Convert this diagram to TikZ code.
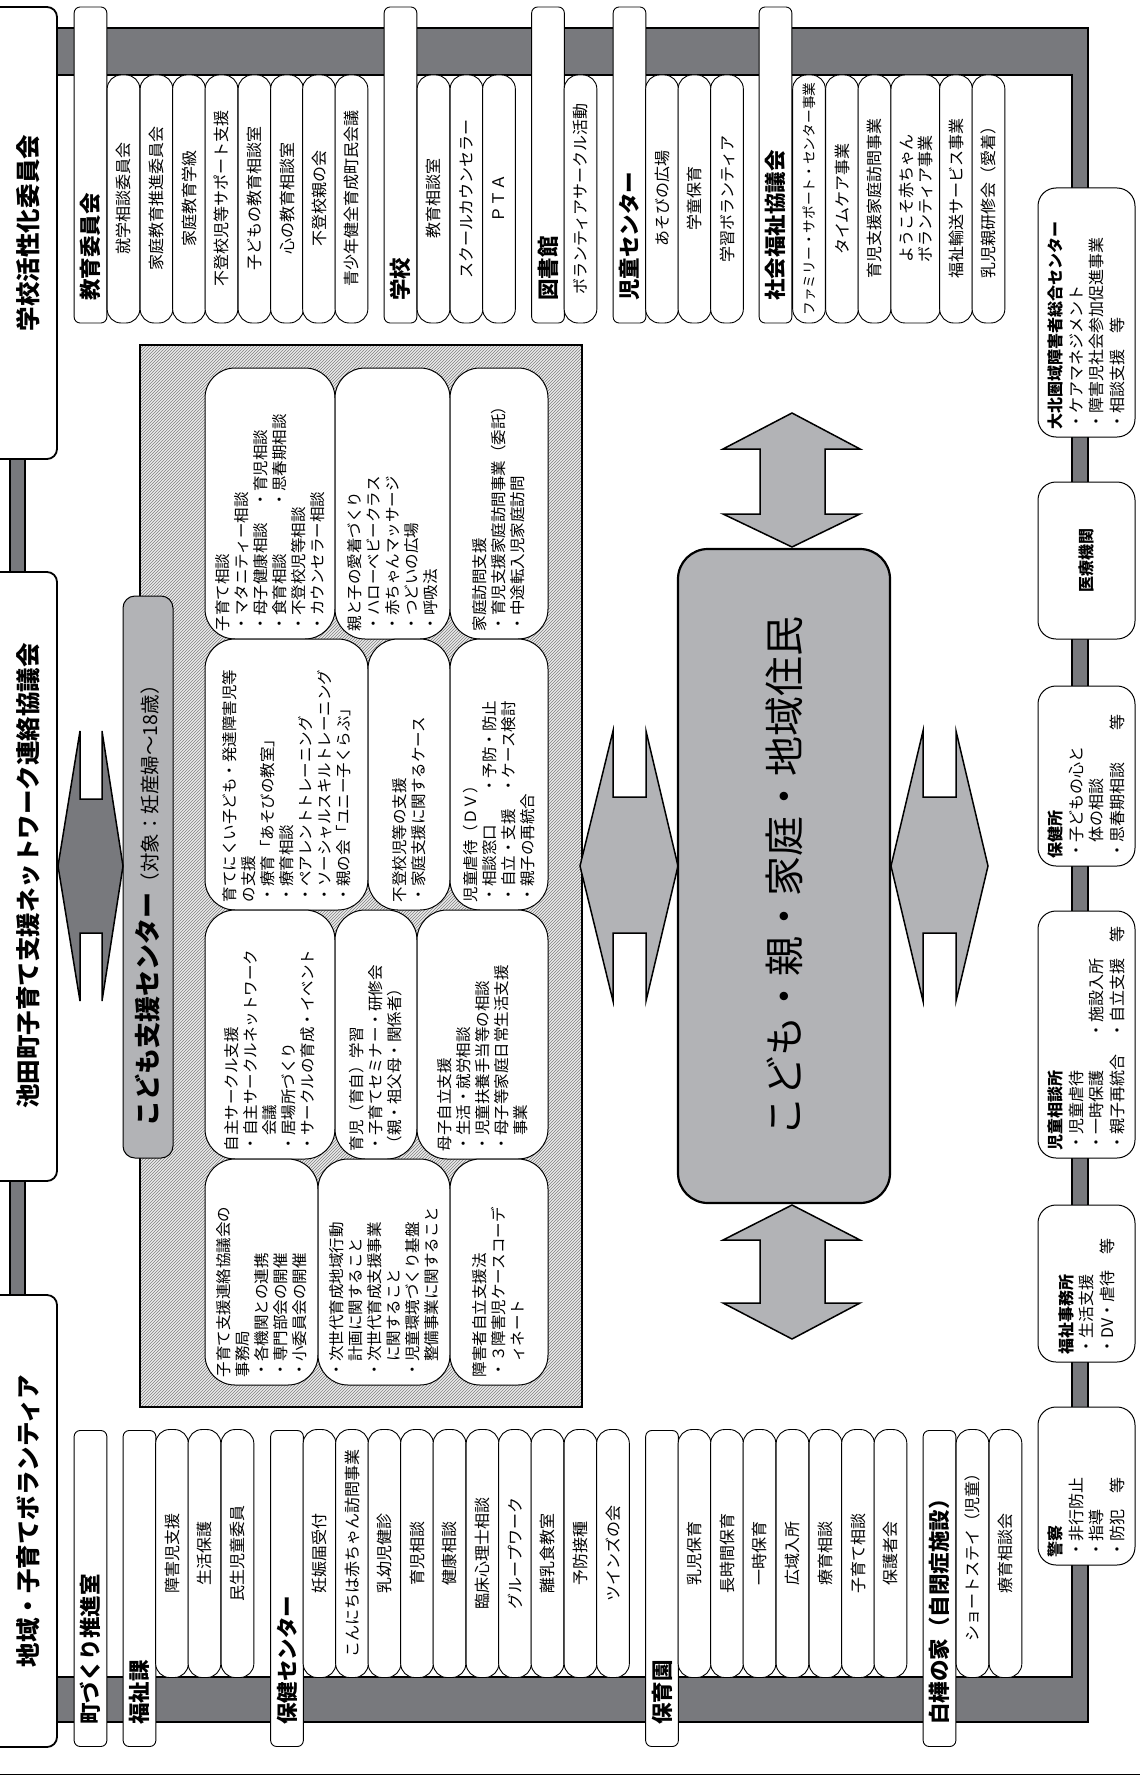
\documentclass[tikz,border=0pt]{standalone}
\usepackage{fontspec}
\setmainfont{Noto Sans CJK JP}
\usetikzlibrary{patterns}

\definecolor{bandgray}{RGB}{120,121,125}
\definecolor{boxgray}{RGB}{178,179,182}

\tikzset{
  band/.style={fill=bandgray, draw=black, line width=2pt},
  titlebox/.style={fill=white, draw=black, line width=1.8pt, rounded corners=10pt},
  titletext/.style={rotate=90, inner sep=0pt, font=\fontsize{24.5}{28}\selectfont\bfseries},
  hdr/.style={rotate=90, draw, line width=0.9pt, fill=white, rounded corners=6pt,
    minimum height=32.7pt, text width=272pt, inner xsep=22pt, inner ysep=0pt,
    align=left, font=\fontsize{21.5}{24}\selectfont\bfseries},
  pill/.style={rotate=90, draw, line width=0.9pt, fill=white, rounded corners=14pt,
    minimum width=248pt, minimum height=32.7pt, inner sep=0pt, align=center,
    font=\fontsize{16}{19}\selectfont},
  tabbox/.style={rotate=90, draw, line width=1pt, fill=boxgray, rounded corners=12pt,
    minimum height=50pt, text width=498pt, inner xsep=32pt, inner ysep=0pt, align=left},
  inbox/.style={rotate=90, draw, line width=1pt, fill=white, rounded corners=30pt,
    inner xsep=8pt, inner ysep=0pt, align=left, font=\fontsize{15.5}{19}\selectfont},
  rbox/.style={rotate=90, draw, line width=1pt, fill=white, rounded corners=18pt,
    minimum height=97pt, inner xsep=7.5pt, inner ysep=0pt, align=left,
    font=\fontsize{16}{20.5}\selectfont},
  core/.style={rotate=90, draw, line width=2.2pt, fill=boxgray, rounded corners=30pt,
    font=\fontsize{40}{44}\selectfont},
  darkarrow/.style={fill=bandgray, draw=black, line width=1.5pt},
  lightarrow/.style={fill=boxgray, draw=black, line width=1.5pt},
}

\begin{document}
\begin{tikzpicture}[x=1pt,y=-1pt]
  \useasboundingbox (0,0) rectangle (1140,1776);

  % gray frame
  \filldraw[band, even odd rule] (10,28) rectangle (1088,1722) (25,75) rectangle (1072,1677);

  % titles on the left edge
  \filldraw[titlebox] (-5,7) -- (57,7) -- (57,459) -- (-5,459);
  \filldraw[titlebox] (-5,572) -- (57,572) -- (57,1181) -- (-5,1181);
  \filldraw[titlebox] (-5,1295) -- (57,1295) -- (57,1747) -- (-5,1747);
  \node[titletext] (t1) at (28,233) {学校活性化委員会};
  \node[titletext] (t2) at (28,876) {池田町子育て支援ネットワーク連絡協議会};
  \node[titletext] (t3) at (28,1521) {地域・子育てボランティア};

  % upper groups
  \node[hdr] (h1) at (90.5,165) {教育委員会};
  \node[pill] (k1) at (123.5,199) {就学相談委員会};
  \node[pill] (k2) at (156.5,199) {家庭教育推進委員会};
  \node[pill] (k3) at (189,199) {家庭教育学級};
  \node[pill] (k4) at (221.5,199) {不登校児等サポート支援};
  \node[pill] (k5) at (254.5,199) {子どもの教育相談室};
  \node[pill] (k6) at (287,199) {心の教育相談室};
  \node[pill] (k7) at (319,199) {不登校親の会};
  \node[pill] (k8) at (351.5,199) {青少年健全育成町民会議};

  \node[hdr] (h2) at (400.5,165) {学校};
  \node[pill] (s1) at (433.5,199) {教育相談室};
  \node[pill] (s2) at (466.5,199) {スクールカウンセラー};
  \node[pill] (s3) at (499,199) {ＰＴＡ};

  \node[hdr] (h3) at (548,165) {図書館};
  \node[pill] (l1) at (580.5,199) {ボランティアサークル活動};

  \node[hdr] (h4) at (629.5,165) {児童センター};
  \node[pill] (j1) at (662,199) {あそびの広場};
  \node[pill] (j2) at (694.5,199) {学童保育};
  \node[pill] (j3) at (727,199) {学習ボランティア};

  \node[hdr] (h5) at (775.5,165) {社会福祉協議会};
  \node[pill, font=\fontsize{13.7}{16}\selectfont] (w1) at (809,199) {ファミリー・サポート・センター事業};
  \node[pill] (w2) at (842,199) {タイムケア事業};
  \node[pill] (w3) at (874.5,199) {育児支援家庭訪問事業};
  \node[pill, minimum height=49pt] (w4) at (915.5,199) {ようこそ赤ちゃん\\ボランティア事業};
  \node[pill] (w5) at (956,199) {福祉輸送サービス事業};
  \node[pill] (w6) at (988.5,199) {乳児親研修会（愛着）};

  % lower groups
  \node[hdr] (g1) at (90.5,1588.5) {町づくり推進室};

  \node[hdr] (g2) at (139.5,1588.5) {福祉課};
  \node[pill] (f1) at (172,1553.5) {障害児支援};
  \node[pill] (f2) at (204.5,1553.5) {生活保護};
  \node[pill] (f3) at (237.5,1553.5) {民生児童委員};

  \node[hdr] (g3) at (287,1588.5) {保健センター};
  \node[pill] (p1) at (319.5,1553.5) {妊娠届受付};
  \node[pill] (p2) at (352,1553.5) {こんにちは赤ちゃん訪問事業};
  \node[pill] (p3) at (384.5,1553.5) {乳幼児健診};
  \node[pill] (p4) at (417,1553.5) {育児相談};
  \node[pill] (p5) at (449.5,1553.5) {健康相談};
  \node[pill] (p6) at (482.5,1553.5) {臨床心理士相談};
  \node[pill] (p7) at (515,1553.5) {グループワーク};
  \node[pill] (p8) at (547.5,1553.5) {離乳食教室};
  \node[pill] (p9) at (580.5,1553.5) {予防接種};
  \node[pill] (p10) at (613,1553.5) {ツインズの会};

  \node[hdr] (g4) at (662,1588.5) {保育園};
  \node[pill] (n1) at (694.5,1553.5) {乳児保育};
  \node[pill] (n2) at (727,1553.5) {長時間保育};
  \node[pill] (n3) at (759.5,1553.5) {一時保育};
  \node[pill] (n4) at (792.5,1553.5) {広域入所};
  \node[pill] (n5) at (825.5,1553.5) {療育相談};
  \node[pill] (n6) at (858,1553.5) {子育て相談};
  \node[pill] (n7) at (890.5,1553.5) {保護者会};

  \node[hdr] (g5) at (939.5,1588.5) {白樺の家（自閉症施設）};
  \node[pill] (b1x) at (972.5,1553.5) {ショートステイ（児童）};
  \node[pill] (b2x) at (1005.5,1553.5) {療育相談会};

  % support centre area
  \fill[black!8] (140,345) rectangle (582,1407);
  \fill[pattern=north east lines, pattern color=black!50] (140,345) rectangle (582,1407);
  \draw[line width=2pt] (140,345) rectangle (582,1407);
  \node[tabbox] (tab) at (148,877) {{\bfseries\fontsize{26}{30}\selectfont こども支援センター}{\fontsize{19.5}{24}\selectfont（対象：妊産婦〜18歳）}};

  \node[inbox, minimum height=130pt, text width=255pt] (a1) at (270,503.5)
    {子育て相談\\・マタニティー相談\\・母子健康相談　・育児相談\\・食育相談　　　・思春期相談\\・不登校児等相談\\・カウンセラー相談};
  \node[inbox, minimum height=115pt, text width=255pt] (a2) at (392.5,503.5)
    {親と子の愛着づくり\\・ハローベビークラス\\・赤ちゃんマッサージ\\・つどいの広場\\・呼吸法};
  \node[inbox, minimum height=98pt, text width=255pt] (a3) at (499,503.5)
    {家庭訪問支援\\・育児支援家庭訪問事業（委託）\\・中途転入児家庭訪問};
  \node[inbox, minimum height=163pt, text width=255pt] (b1) at (286.5,774.5)
    {育てにくい子ども・発達障害児等\\の支援\\・療育「あそびの教室」\\・療育相談\\・ペアレントトレーニング\\・ソーシャルスキルトレーニング\\・親の会「ユニー子くらぶ」};
  \node[inbox, minimum height=82pt, text width=255pt] (b2) at (409,774.5)
    {不登校児等の支援\\・家庭支援に関するケース};
  \node[inbox, minimum height=98pt, text width=255pt] (b3) at (499,774.5)
    {児童虐待（ＤＶ）\\・相談窓口　　・予防・防止\\・自立・支援　・ケース検討\\・親子の再統合};
  \node[inbox, minimum height=130pt, text width=233pt] (c1) at (270,1034.5)
    {自主サークル支援\\・自主サークルネットワーク\\　会議\\・居場所づくり\\・サークルの育成・イベント};
  \node[inbox, minimum height=82pt, text width=233pt] (c2) at (376,1034.5)
    {育児（育自）学習\\・子育てセミナー・研修会\\（親・祖父母・関係者）};
  \node[inbox, minimum height=131pt, text width=233pt] (c3) at (482.5,1034.5)
    {母子自立支援\\・生活・就労相談\\・児童扶養手当等の相談\\・母子等家庭日常生活支援\\　事業};
  \node[inbox, minimum height=113pt, text width=210pt] (d1) at (261.5,1272)
    {子育て支援連絡協議会の\\事務局\\・各機関との連携\\・専門部会の開催\\・小委員会の開催};
  \node[inbox, minimum height=132pt, text width=210pt] (d2) at (384,1272)
    {・次世代育成地域行動\\　計画に関すること\\・次世代育成支援事業\\　に関すること\\・児童環境づくり基盤\\　整備事業に関すること};
  \node[inbox, minimum height=98pt, text width=210pt] (d3) at (499,1272)
    {障害者自立支援法\\・３障害児ケースコーデ\\　ィネート};

  % arrows
  \filldraw[darkarrow] (58,866) -- (80,731) -- (80,799) -- (102,799) -- (102,731) -- (123,866)
    -- (102,1001) -- (102,933) -- (80,933) -- (80,1001) -- cycle;
  \filldraw[lightarrow] (580,866) -- (613,731) -- (613,797) -- (646,797) -- (646,731) -- (678,866)
    -- (646,1001) -- (646,933) -- (613,933) -- (613,1001) -- cycle;
  \filldraw[lightarrow] (891,866) -- (923,731) -- (923,797) -- (956,797) -- (956,731) -- (988,866)
    -- (956,1001) -- (956,933) -- (923,933) -- (923,1001) -- cycle;
  \filldraw[lightarrow] (792,413) -- (860,449) -- (825,449) -- (825,514) -- (860,514) -- (792,547)
    -- (723,514) -- (760,514) -- (760,449) -- (723,449) -- cycle;
  \filldraw[lightarrow] (792,1205) -- (860,1240) -- (825,1240) -- (825,1303) -- (860,1303) -- (792,1339)
    -- (723,1303) -- (760,1303) -- (760,1240) -- (723,1240) -- cycle;

  % centre
  \node[core, minimum width=654pt, minimum height=212pt] (core) at (784,876) {こども・親・家庭・地域住民};

  % boxes on the right
  \node[rbox, text width=234pt] (r1) at (1086.5,312.5)
    {{\bfseries 大北圏域障害者総合センター}\\・ケアマネジメント\\・障害児社会参加促進事業\\・相談支援　等};
  \node[rbox, text width=142pt, align=center] (r2) at (1086.5,560.5) {\bfseries 医療機関};
  \node[rbox, text width=165pt] (r3) at (1086.5,776)
    {{\bfseries 保健所}\\・子どもの心と\\　体の相談\\・思春期相談　　等};
  \node[rbox, text width=232pt] (r4) at (1086.5,1034.5)
    {{\bfseries 児童相談所}\\・児童虐待\\・一時保護　　・施設入所\\・親子再統合　・自立支援　等};
  \node[rbox, text width=142pt] (r5) at (1086.5,1283.5)
    {{\bfseries 福祉事務所}\\・生活支援\\・DV・虐待　等};
  \node[rbox, text width=143pt] (r6) at (1086.5,1486)
    {{\bfseries 警察}\\・非行防止\\・指導\\・防犯　等};

  \draw[line width=0.8pt] (0,1774) -- (1140,1774);
\end{tikzpicture}
\end{document}
